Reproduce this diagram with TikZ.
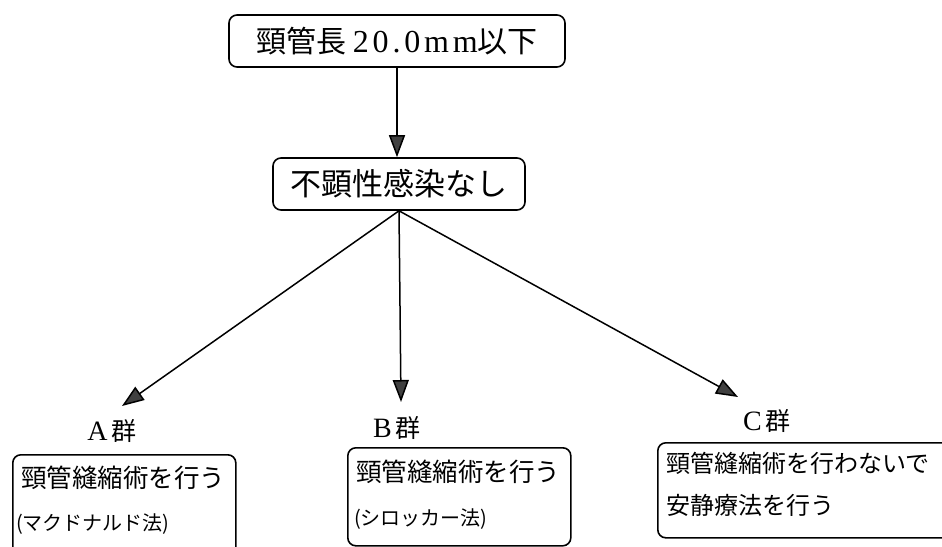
\documentclass[tikz,border=0pt]{standalone}
\usepackage{fontspec}
\newfontfamily\cjk{Noto Sans CJK JP}
\newfontfamily\lat{Liberation Serif}[LetterSpace=12]
\newfontfamily\latn{Liberation Serif}
\usetikzlibrary{arrows.meta}
\begin{document}
\begin{tikzpicture}[x=1pt,y=-1pt,
  box/.style={draw, line width=1.6pt, rounded corners=8pt, inner sep=0pt},
  arr/.style={line width=1.5pt, -{Triangle[length=22pt,width=16pt,fill=gray!50!black]}},
  grp/.style={inner sep=0pt, font=\cjk\fontsize{25}{30}\selectfont},
  txt/.style={inner sep=0pt, anchor=west, font=\cjk\fontsize{25.5}{30}\selectfont},
  ctxt/.style={inner sep=0pt, anchor=west, font=\cjk\fontsize{24}{28}\selectfont},
  small/.style={inner sep=0pt, anchor=west, font=\cjk\fontsize{20}{24}\selectfont}]
\useasboundingbox (0,0) rectangle (942,546);
\clip (0,0) rectangle (942,546);
% top boxes
\node[box, minimum width=336pt, minimum height=52pt,
      font=\cjk\fontsize{30}{36}\selectfont] (top) at (397,41)
      {頸管長 {\lat\fontsize{32}{36}\selectfont 20.0mm}以下};
\node[box, minimum width=252pt, minimum height=52pt,
      font=\cjk\fontsize{31}{36}\selectfont] (mid) at (399,184) {不顕性感染なし};
\draw[arr] (top.south) -- (top.south |- mid.north);
% arrow ends
\coordinate (ta) at (122,406);
\coordinate (tb) at (401,402);
\coordinate (tc) at (738,397);
\draw[arr] (mid.south) -- (ta);
\draw[arr] (mid.south) -- (tb);
\draw[arr] (mid.south) -- (tc);
% group labels
\node[grp] (la) at (112,431) {{\latn\fontsize{28}{30}\selectfont A}\,群};
\node[grp] (lb) at (397,428) {{\latn\fontsize{28}{30}\selectfont B}\,群};
\node[grp] (lc) at (767,421) {{\latn\fontsize{28}{30}\selectfont C}\,群};
% lower boxes
\node[box, anchor=north west, minimum width=223pt, minimum height=120pt] (ba) at (12,454) {};
\node[box, anchor=north west, minimum width=223pt, minimum height=98pt] (bb) at (347,447) {};
\node[box, anchor=north west, minimum width=300pt, minimum height=95pt] (bc) at (657,442) {};
% texts
\node[txt] (a1) at (21,478) {頸管縫縮術を行う};
\node[small] (a2) at (16,524) {(マクドナルド法)};
\node[txt] (b1) at (356,472) {頸管縫縮術を行う};
\node[small] (b2) at (354,519) {(シロッカー法)};
\node[ctxt] (c1) at (666,463) {頸管縫縮術を行わないで};
\node[ctxt] (c2) at (666,505) {安静療法を行う};
\end{tikzpicture}
\end{document}
